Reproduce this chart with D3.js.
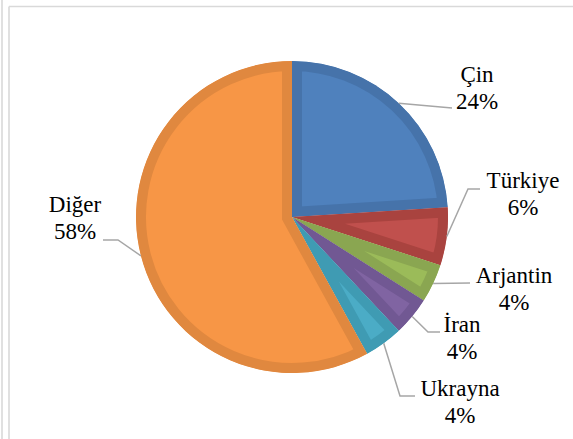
<!DOCTYPE html>
<html>
<head>
<meta charset="utf-8">
<script src="https://cdn.jsdelivr.net/npm/d3@7"></script>
<style>
  html, body { margin: 0; padding: 0; background: #ffffff; }
  svg { display: block; }
  .lbl { font-family: "Liberation Serif", "Times New Roman", "DejaVu Serif", serif; font-size: 23px; fill: #000; }
</style>
</head>
<body>
<svg id="chart" width="573" height="439"></svg>
<script>
// ---- data ----
const categories = ["Çin", "Türkiye", "Arjantin", "İran", "Ukrayna", "Diğer"];
const values = [24, 6, 4, 4, 4, 58];
const percentLabels = ["24%", "6%", "4%", "4%", "4%", "58%"];

// ---- styles / layout ----
const lightColors = ["#4f81bd", "#c0504d", "#9bbb59", "#8064a2", "#4bacc6", "#f79646"];
const darkColors  = ["#4673aa", "#a9433f", "#8aa651", "#715893", "#3f9bb3", "#e0883f"];
// label anchor offsets from pie centre (centre x of label, first baseline)
const labelOffsets = [[185, -135], [231, -29], [222, 66], [170, 115], [168, 179], [-217, -5]];
// leader elbow offsets relative to label anchor
const leaderEnds = [
  [[-25, 26]],
  [[-55, 1], [-43, 1]],
  [[-44, 0]],
  [[-34, 0], [-22, 0]],
  [[-60, 0], [-45, 0]],
  [[43, 28], [28, 28]]
];

const W = 573, H = 439;
const cx = 292, cy = 217, R = 156;
const svg = d3.select("#chart");
const defs = svg.append("defs");

// frame
const frame = svg.append("g").attr("stroke", "#d9d9d9").attr("stroke-width", 1.6).attr("fill", "none");
frame.append("line").attr("x1", 2).attr("y1", 0).attr("x2", 2).attr("y2", H);
frame.append("line").attr("x1", 9).attr("y1", 6.5).attr("x2", 9).attr("y2", H);
frame.append("line").attr("x1", 9).attr("y1", 6.5).attr("x2", W).attr("y2", 6.5);

const pie = d3.pie().sort(null).value(d => d)(values);
const arc = d3.arc().innerRadius(0).outerRadius(R);

const g = svg.append("g").attr("transform", `translate(${cx},${cy})`);

pie.forEach((p, i) => {
  const id = "clip" + i;
  defs.append("clipPath").attr("id", id).append("path").attr("d", arc(p));
  g.append("path")
    .attr("d", arc(p))
    .attr("clip-path", `url(#${id})`)
    .attr("fill", lightColors[i])
    .attr("stroke", darkColors[i])
    .attr("stroke-width", 20)
    .attr("stroke-linejoin", "miter");
});

// leader lines and labels
pie.forEach((p, i) => {
  const mid = (p.startAngle + p.endAngle) / 2;
  const sx = cx + R * Math.sin(mid), sy = cy - R * Math.cos(mid);
  const lx = cx + labelOffsets[i][0], ly = cy + labelOffsets[i][1];
  const pts = [[sx, sy]].concat(leaderEnds[i].map(e => [lx + e[0], ly + e[1]]));
  svg.append("path")
    .attr("d", d3.line()(pts))
    .attr("fill", "none")
    .attr("stroke", "#a6a6a6")
    .attr("stroke-width", 1.5);
  const t = svg.append("text")
    .attr("class", "lbl")
    .attr("x", lx).attr("y", ly)
    .attr("text-anchor", "middle");
  t.append("tspan").attr("x", lx).attr("dy", 0).text(categories[i]);
  t.append("tspan").attr("x", lx).attr("dy", 26.5).text(percentLabels[i]);
});
</script>
</body>
</html>
